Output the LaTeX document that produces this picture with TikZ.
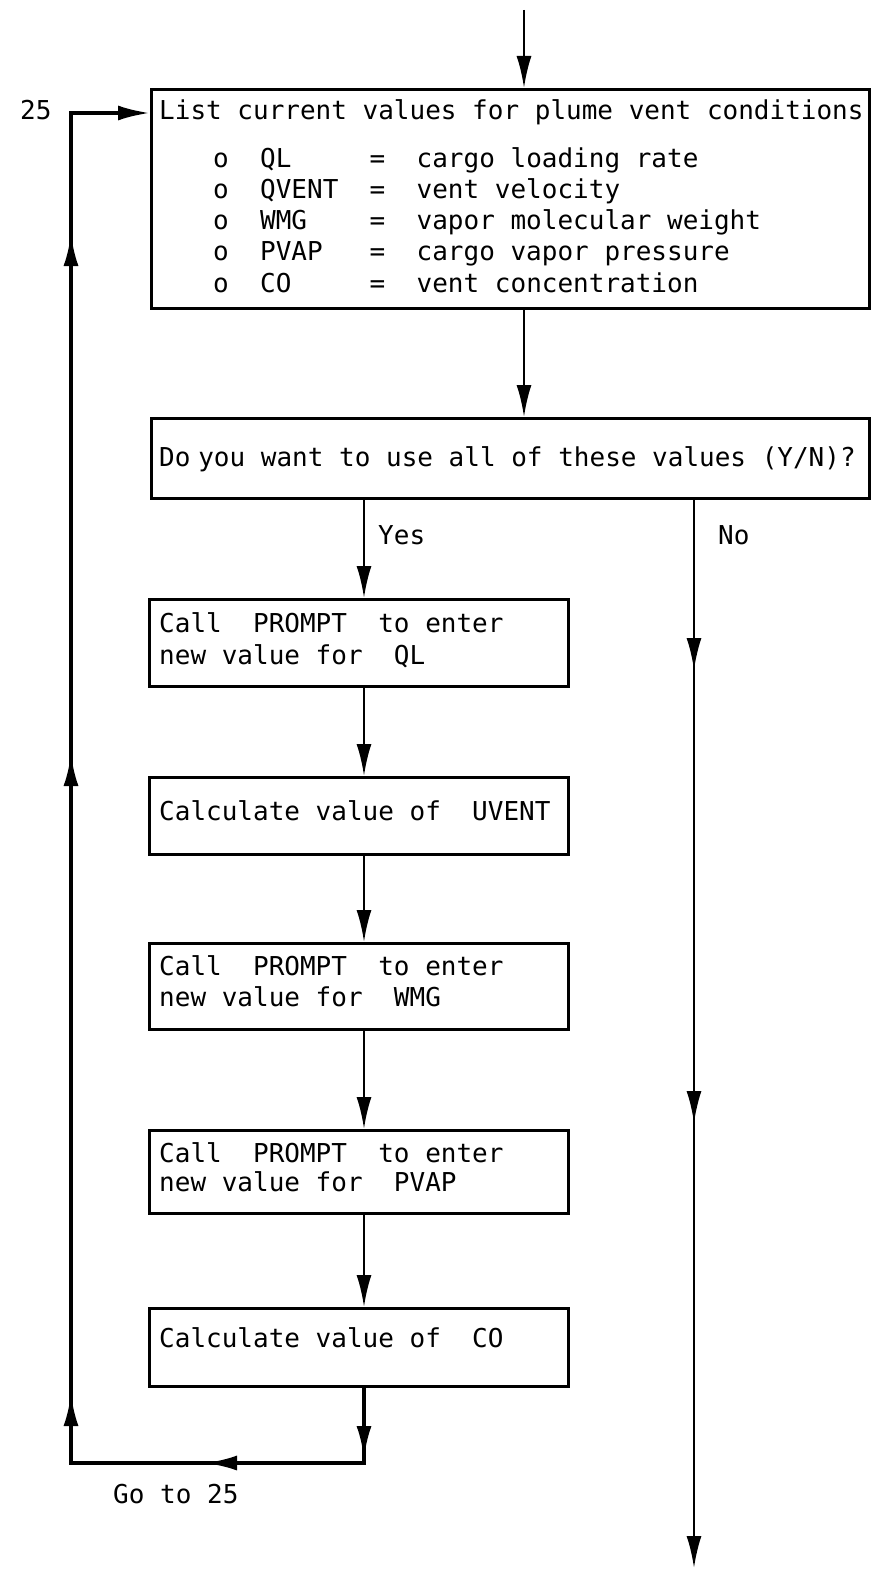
\documentclass[tikz,border=0pt]{standalone}
\usepackage{fontspec}
\newfontfamily\monofnt{DejaVu Sans Mono}
\usetikzlibrary{arrows.meta,decorations.markings}
\tikzset{
  ftip/.tip={Latex[length=32pt,width=15pt]},
  box/.style={draw, line width=3pt, rectangle, inner sep=0pt, anchor=north west},
  txt/.style={inner sep=0pt, anchor=base west, font=\monofnt\fontsize{26}{30}\selectfont},
  conn/.style={line width=2.5pt, -{ftip}},
  loopln/.style={line width=3.5pt, -{ftip}},
  marks/.style={postaction={decorate}, decoration={markings, #1}}
}
\begin{document}
\begin{tikzpicture}[x=1pt,y=-1pt]
\useasboundingbox (0,0) rectangle (870,1570);

% boxes
\node[box, minimum width=718pt, minimum height=219pt] (b1) at (150,88) {};
\node[box, minimum width=718pt, minimum height=80pt]  (b2) at (150,417) {};
\node[box, minimum width=419pt, minimum height=87pt]  (b3) at (148,598) {};
\node[box, minimum width=419pt, minimum height=77pt]  (b4) at (148,776) {};
\node[box, minimum width=419pt, minimum height=86pt]  (b5) at (148,942) {};
\node[box, minimum width=419pt, minimum height=83pt]  (b6) at (148,1129) {};
\node[box, minimum width=419pt, minimum height=78pt]  (b7) at (148,1307) {};

% texts
\node[txt] (l1) at (159,120) {List current values for plume vent conditions};
\node[txt] (r1) at (213,168) {o~~QL~~~~~=~~cargo loading rate};
\node[txt] (r2) at (213,199) {o~~QVENT~~=~~vent velocity};
\node[txt] (r3) at (213,230) {o~~WMG~~~~=~~vapor molecular weight};
\node[txt] (r4) at (213,261) {o~~PVAP~~~=~~cargo vapor pressure};
\node[txt] (r5) at (213,292) {o~~CO~~~~~=~~vent concentration};
\node[txt] (q2) at (159,466) {Do\hspace{0.3em}you want to use all of these values (Y/N)?};
\node[txt] (t3a) at (159,632) {Call~~PROMPT~~to enter};
\node[txt] (t3b) at (159,664) {new value for~~QL};
\node[txt] (t4) at (159,820) {Calculate value of~~UVENT};
\node[txt] (t5a) at (159,975) {Call~~PROMPT~~to enter};
\node[txt] (t5b) at (159,1006) {new value for~~WMG};
\node[txt] (t6a) at (159,1162) {Call~~PROMPT~~to enter};
\node[txt] (t6b) at (159,1191) {new value for~~PVAP};
\node[txt] (t7) at (159,1347) {Calculate value of~~CO};
\node[txt] (n25) at (20,120) {25};
\node[txt] (yes) at (378,544) {Yes};
\node[txt] (no) at (718,544) {No};
\node[txt] (goto) at (113,1503) {Go to 25};

% coordinates
\coordinate (topstart) at (524,10);
\coordinate (colx) at (364,0);
\coordinate (nox) at (694,0);
\coordinate (noend) at (694,1568);
\coordinate (c1) at (364,1463);
\coordinate (c2) at (71,1463);
\coordinate (c3) at (71,113);

% connectors
\draw[conn] (topstart) -- (b1.north -| topstart);
\draw[conn] (b1.south -| topstart) -- (b2.north -| topstart);
\draw[conn] (b2.south -| colx) -- (b3.north -| colx);
\draw[conn] (b3.south -| colx) -- (b4.north -| colx);
\draw[conn] (b4.south -| colx) -- (b5.north -| colx);
\draw[conn] (b5.south -| colx) -- (b6.north -| colx);
\draw[conn] (b6.south -| colx) -- (b7.north -| colx);
\draw[conn, marks={mark=at position 170pt with {\arrow{ftip}}, mark=at position 623pt with {\arrow{ftip}}}]
  (b2.south -| nox) -- (noend);
\draw[loopln, marks={mark=at position 70pt with {\arrow{ftip}}, mark=at position 234pt with {\arrow{ftip}}, mark=at position 437pt with {\arrow{ftip}}, mark=at position 1077pt with {\arrow{ftip}}, mark=at position 1597pt with {\arrow{ftip}}}]
  (b7.south -| colx) -- (c1) -- (c2) -- (c3) -- (c3 -| b1.west);
\end{tikzpicture}
\end{document}
